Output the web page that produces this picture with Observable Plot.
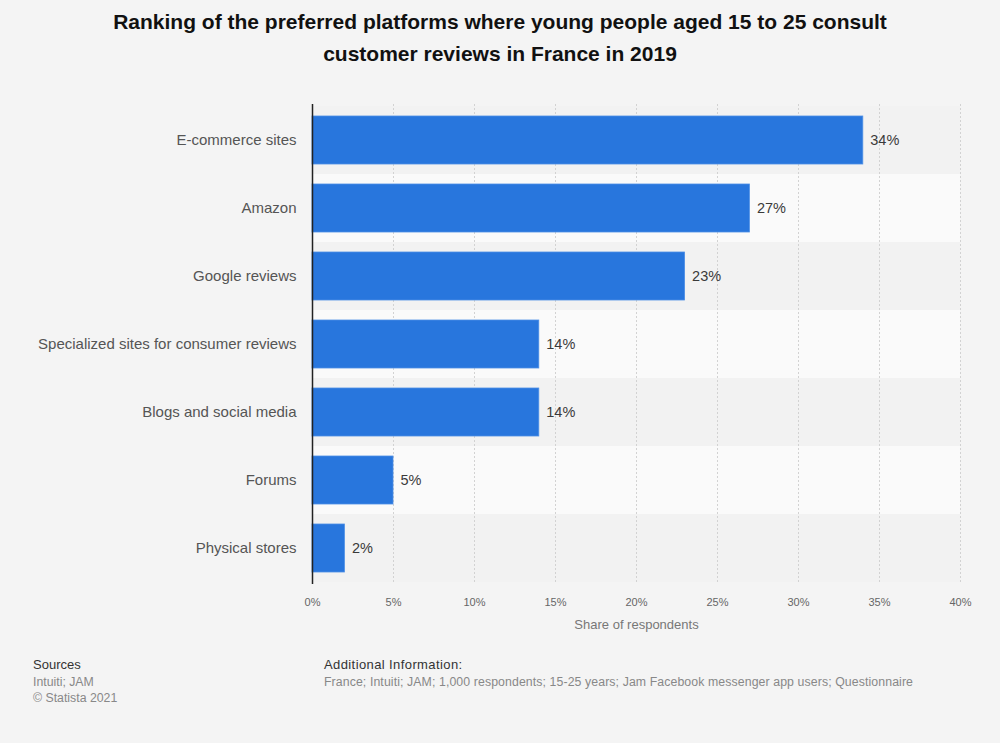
<!DOCTYPE html>
<html>
<head>
<meta charset="utf-8">
<script src="https://cdn.jsdelivr.net/npm/d3@7"></script>
<script src="https://cdn.jsdelivr.net/npm/@observablehq/plot@0.6"></script>
<style>
  html, body { margin: 0; padding: 0; background: #f4f4f4; }
  #wrap { position: relative; width: 1000px; height: 743px; background: #f4f4f4; font-family: "Liberation Sans", Arial, sans-serif; overflow: hidden; }
  #title { position: absolute; left: 0; top: 6px; width: 1000px; text-align: center; font-size: 21px; font-weight: bold; color: #111; line-height: 32px; }
  #chart { position: absolute; left: 0; top: 88px; }
  .foot { position: absolute; font-size: 13px; color: #333; }
  .foot .sub { font-size: 12.3px; color: #888; line-height: 16px; }
</style>
</head>
<body>
<div id="wrap">
  <div id="title">Ranking of the preferred platforms where young people aged 15 to 25 consult<br>customer reviews in France in 2019</div>
  <div id="chart"></div>
  <div class="foot" style="left:33px; top:657px;">Sources<div class="sub" style="margin-top:2px">Intuiti; JAM<br>© Statista 2021</div></div>
  <div class="foot" style="left:324px; top:657px; letter-spacing:0.4px;">Additional Information:<div class="sub" style="margin-top:2px; letter-spacing:0.1px;">France; Intuiti; JAM; 1,000 respondents; 15-25 years; Jam Facebook messenger app users; Questionnaire</div></div>
</div>
<script>
const categories = ["E-commerce sites", "Amazon", "Google reviews", "Specialized sites for consumer reviews", "Blogs and social media", "Forums", "Physical stores"];
const values = [34, 27, 23, 14, 14, 5, 2];
const xTicks = [0, 5, 10, 15, 20, 25, 30, 35, 40];

const data = categories.map((c, i) => ({category: c, value: values[i], idx: i}));

const chart = Plot.plot({
  width: 1000,
  height: 562,
  marginTop: 16,
  marginBottom: 66,
  marginLeft: 312,
  marginRight: 40,
  style: {background: "transparent", fontFamily: "Liberation Sans, Arial, sans-serif"},
  x: {domain: [0, 40], ticks: xTicks},
  y: {domain: categories, padding: 0},
  marks: [
    Plot.barX(data, {y: "category", x1: 0, x2: 40, fill: d => d.idx % 2 === 0 ? "#f2f2f2" : "#fafafa"}),
    Plot.ruleX(xTicks.filter(t => t > 0), {stroke: "#d2d2d2", strokeDasharray: "2,2"}),
    Plot.barX(data, {y: "category", x: "value", fill: "#2876dd", stroke: "#4d8fe6", strokeWidth: 0.8, insetTop: 10, insetBottom: 10}),
    Plot.text(data, {y: "category", x: "value", text: d => d.value + "%", textAnchor: "start", dx: 7, fill: "#3a3a3a", fontSize: 14.5}),
    Plot.ruleX([0], {stroke: "#222", strokeWidth: 1.5}),
    Plot.axisX({ticks: xTicks, tickSize: 0, tickPadding: 14, tickFormat: d => d + "%", fontSize: 11, color: "#666", label: "Share of respondents", labelAnchor: "center", labelArrow: "none", labelOffset: 44}),
    Plot.axisY({tickSize: 0, tickPadding: 16, fontSize: 15, color: "#555", label: null})
  ]
});
chart.querySelectorAll('[aria-label="x-axis label"] text').forEach(t => { t.setAttribute("font-size", "13"); t.setAttribute("fill", "#777"); });
document.getElementById("chart").appendChild(chart);
</script>
</body>
</html>
